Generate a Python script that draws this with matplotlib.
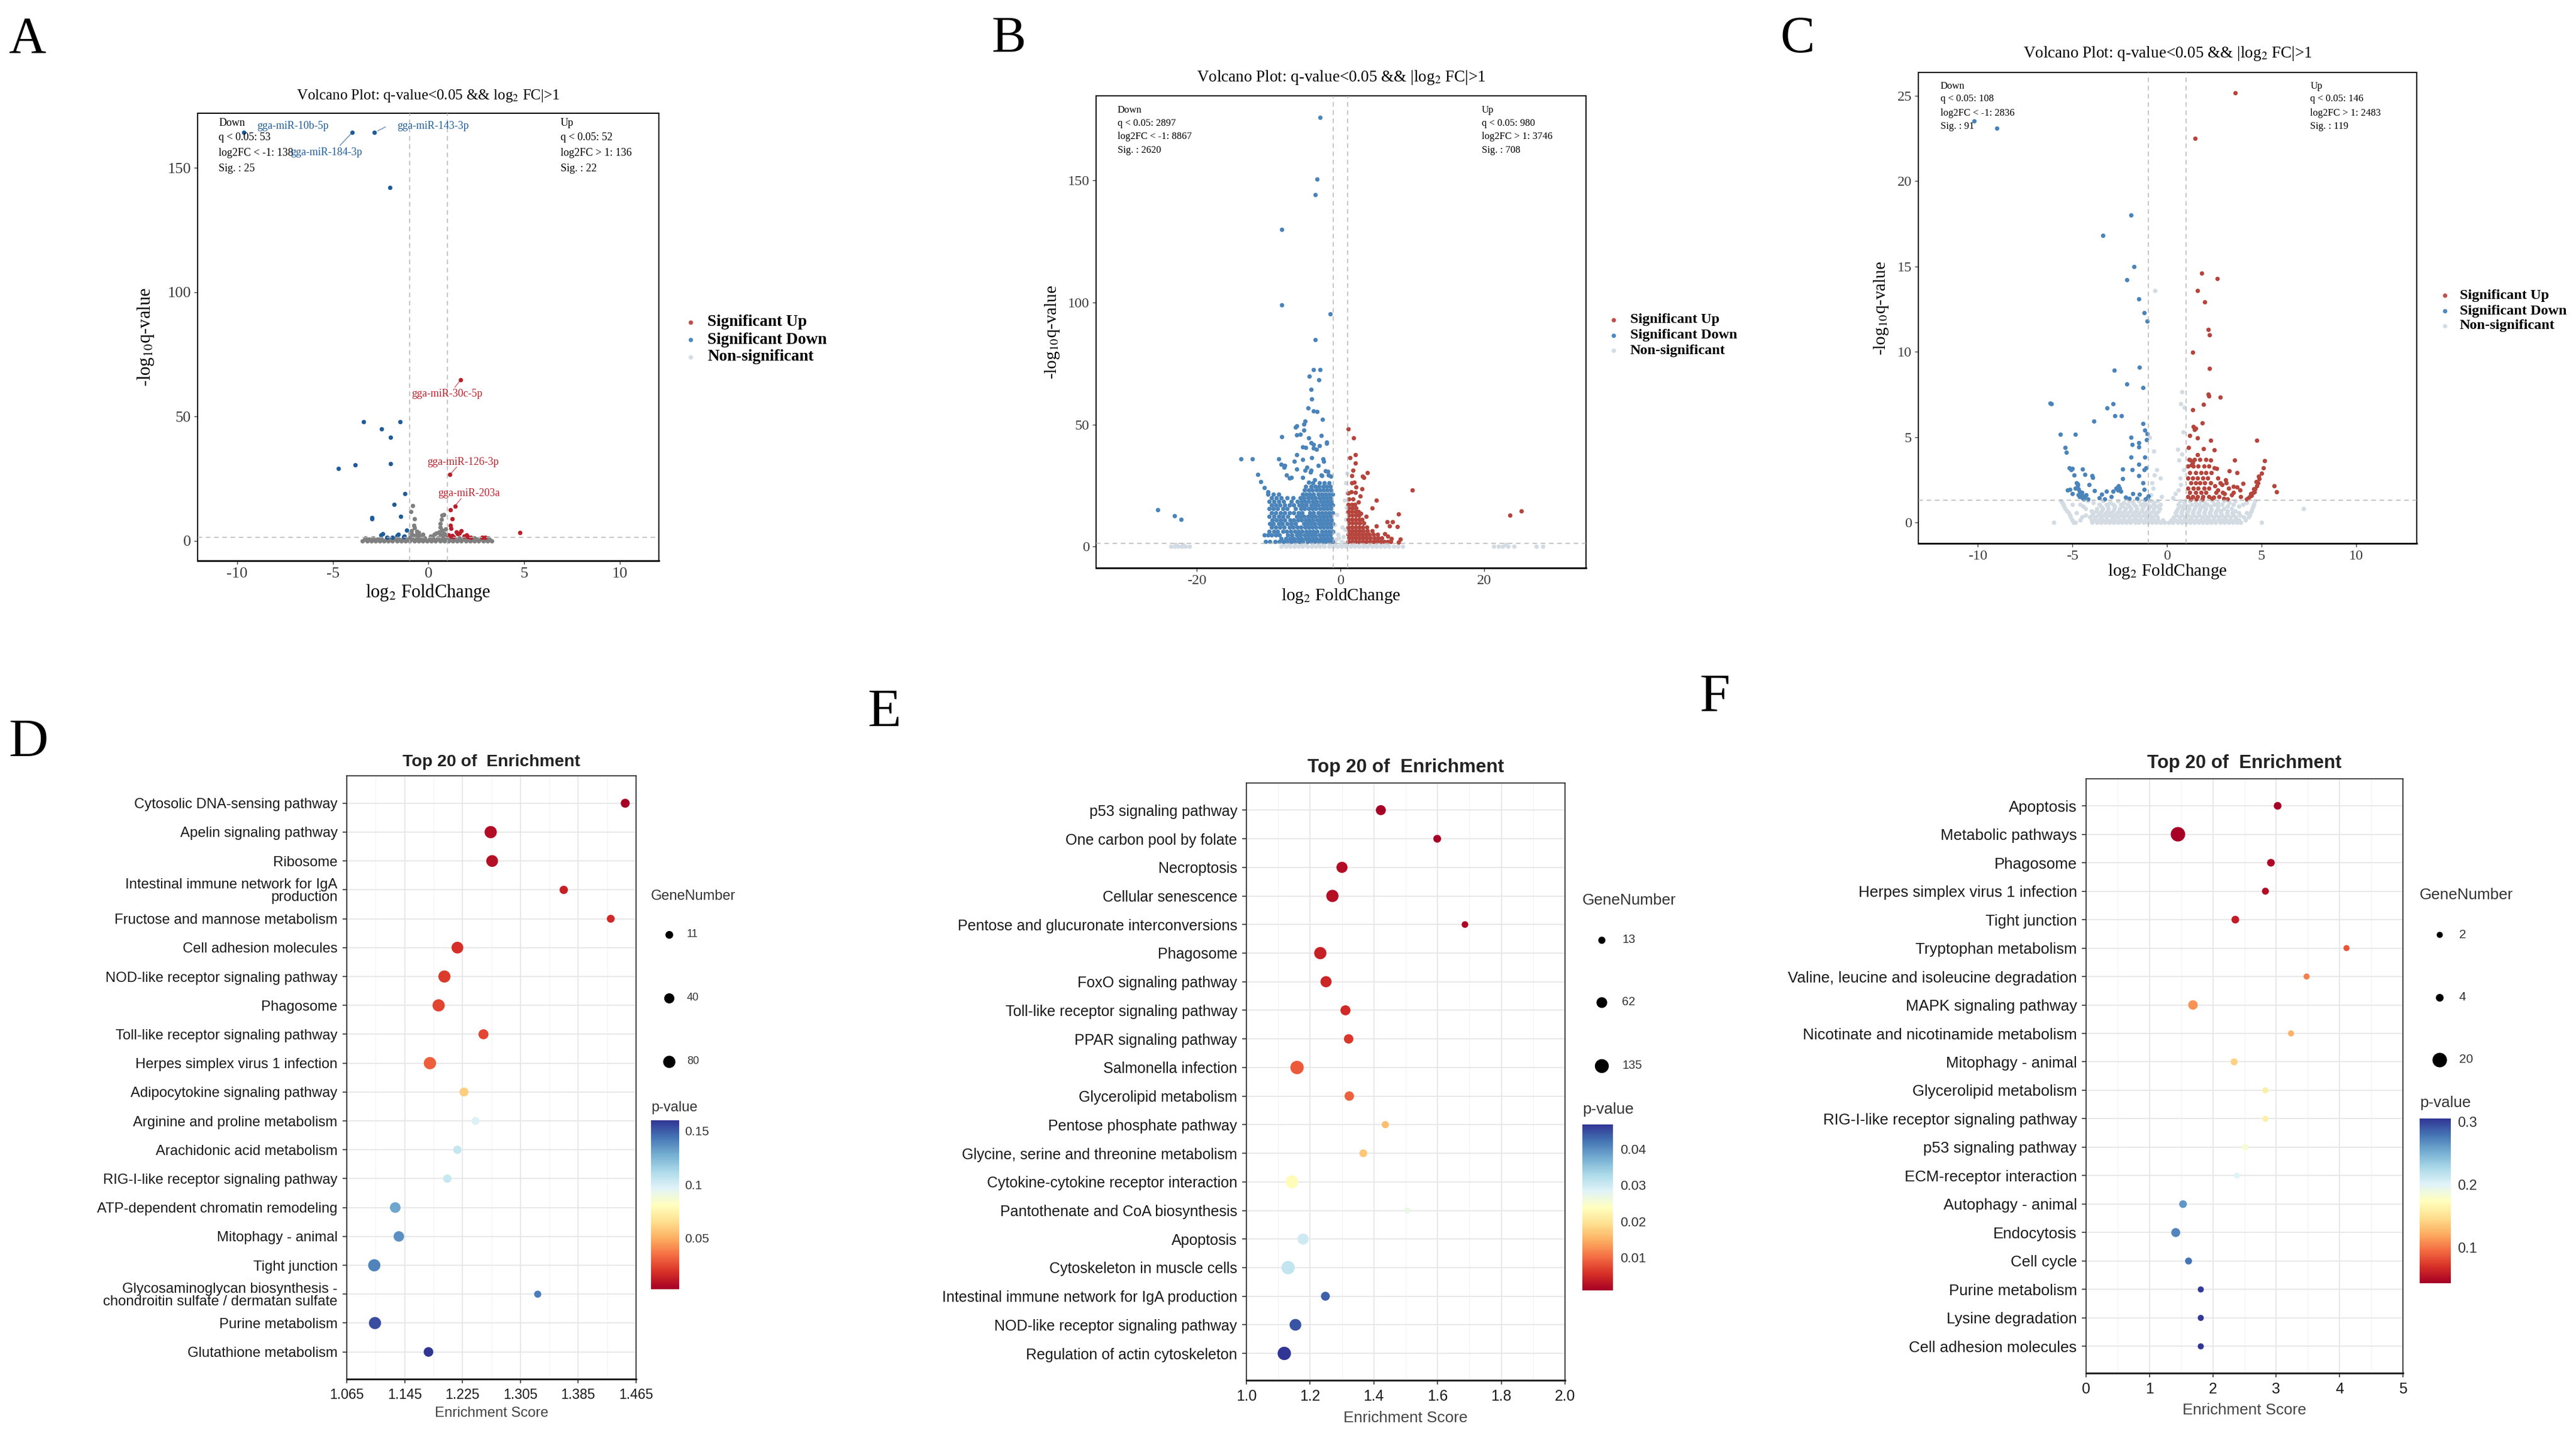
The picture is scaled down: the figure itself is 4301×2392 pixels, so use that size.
import numpy as np
import matplotlib
matplotlib.use("Agg")
import matplotlib.pyplot as plt
from matplotlib.colors import Normalize
from matplotlib.colorbar import ColorbarBase

W, H, DPI = 4301, 2392, 100
plt.rcParams["mathtext.fontset"] = "stix"
plt.rcParams["axes.unicode_minus"] = False
SERIF = ["Liberation Serif", "DejaVu Serif"]
SANS = ["Liberation Sans", "DejaVu Sans"]
plt.rcParams["font.family"] = SANS

# -------------------- VOLCANO DATA (log2FC, -log10 q) -------------------- #

# panel A
a_up_pts = [(1.67, 64.7), (1.10, 26.6), (1.38, 13.9), (4.76, 3.4), (1.13, 12.6), (1.24, 8.9),
            (1.13, 6.2), (1.18, 4.9), (1.70, 4.1), (1.53, 2.9), (1.99, 2.3), (1.05, 2.4),
            (1.24, 2.1), (2.05, 1.6), (1.45, 3.5), (1.60, 3.2), (2.80, 1.5), (2.95, 1.4),
            (1.85, 1.8), (1.30, 1.7), (2.20, 1.5), (1.15, 1.9)]
a_down_pts = [(-9.64, 164.3), (-3.98, 164.3), (-2.83, 164.3), (-2.02, 142.0), (-3.38, 48.0),
              (-1.47, 48.0), (-2.45, 45.0), (-1.99, 41.7), (-4.70, 29.2), (-3.84, 30.6),
              (-1.99, 31.0), (-1.24, 19.1), (-1.79, 14.6), (-2.97, 9.4), (-2.95, 8.9),
              (-1.44, 9.9), (-1.13, 4.2), (-2.50, 2.4), (-2.38, 2.9), (-2.16, 1.5),
              (-1.64, 2.1), (-1.58, 2.5), (-1.30, 1.6), (-1.28, 2.0), (-1.90, 1.4)]
a_ns_rows_y = [0.0, 0.6, 1.2, 2.6]
a_ns_rows_x = [
    [-3.45, -3.22, -3.0, -2.78, -2.55, -2.33, -2.1, -1.88, -1.65, -1.43, -1.2, -0.98, -0.75,
     -0.53, -0.3, -0.08, 0.15, 0.37, 0.6, 0.82, 1.05, 1.27, 1.5, 1.72, 1.95, 2.17, 2.4, 2.62,
     2.85, 3.07, 3.3],
    [-3.33, -3.11, -2.89, -2.66, -2.44, -2.22, -1.99, -1.77, -1.54, -1.32, -1.09, -0.87, -0.64,
     -0.42, -0.19, 0.04, 0.26, 0.49, 0.71, 0.94, 1.16, 1.39, 1.61, 1.84, 2.06, 2.29, 2.51, 2.74,
     2.96, 3.19],
    [-3.3, -2.9, -2.5, -2.1, -1.7, -1.3, -0.9, -0.6, -0.2, 0.2, 0.5, 0.8, 1.2, 1.6, 2.0, 2.4,
     2.8, 3.1],
    [-0.85, -0.6, -0.3, 0.3, 0.6, 0.85]]
a_ns_pts = [(-0.84, 14.1), (-0.92, 11.8), (-0.72, 8.9), (-0.78, 6.2), (-0.74, 5.2), (-0.88, 4.0),
            (-0.60, 3.8), (0.81, 10.5), (0.72, 10.2), (0.66, 8.6), (0.60, 7.0), (0.62, 5.5),
            (0.70, 4.3), (0.55, 3.6), (0.90, 4.8), (-0.50, 3.3), (0.40, 3.0), (-0.95, 2.0),
            (-0.7, 2.2), (-0.45, 1.9), (0.1, 2.0), (0.7, 2.3), (0.95, 2.0), (0.8, 3.2),
            (-0.95, 3.0)]
a_lab_text = ["gga-miR-10b-5p", "gga-miR-184-3p", "gga-miR-143-3p",
              "gga-miR-30c-5p", "gga-miR-126-3p", "gga-miR-203a"]
a_lab_x = [-8.97, -7.21, -1.62, 0.98, 1.79, 2.10]
a_lab_y = [166.9, 156.3, 166.9, 59.0, 31.6, 19.0]
a_lab_ha = ["left", "left", "left", "center", "center", "center"]
a_lab_dir = ["down", "down", "down", "up", "up", "up"]
a_seg_x = [(-4.62, -4.04), (-2.65, -2.25), (1.38, 1.64), (1.47, 1.15), (1.70, 1.44)]
a_seg_y = [(159.1, 163.8), (164.9, 166.5), (61.8, 64.4), (29.7, 26.9), (17.0, 14.6)]
a_seg_dir = ["down", "down", "up", "up", "up"]
a_info_down = ["Down", "q < 0.05: 53", "log2FC < -1: 138", "Sig. : 25"]
a_info_up = ["Up", "q < 0.05: 52", "log2FC > 1: 136", "Sig. : 22"]

# panel B
b_down_pts = [(-2.79, 175.9), (-3.26, 150.5), (-3.49, 144.2), (-8.14, 129.9), (-8.14, 99.0),
              (-1.40, 95.3), (-3.49, 84.8), (-3.72, 72.5), (-2.79, 72.5), (-4.34, 69.9),
              (-2.95, 68.2), (-4.11, 64.3), (-3.95, 60.5), (-4.50, 56.7), (-3.72, 55.5),
              (-3.26, 55.2), (-2.48, 52.2), (-4.88, 51.4), (-6.05, 49.4), (-5.04, 47.6),
              (-8.14, 44.9), (-6.05, 45.6), (-5.58, 45.9), (-4.42, 44.4), (-1.94, 42.8),
              (-4.03, 42.6), (-4.81, 40.6), (-2.87, 41.3), (-3.72, 41.8), (-3.33, 39.8),
              (-13.8, 36.0), (-12.25, 36.0), (-8.60, 36.0), (-7.75, 33.2), (-6.05, 37.7),
              (-2.33, 34.9), (-3.10, 33.2), (-11.47, 29.4), (-11.09, 26.6), (-10.54, 24.1),
              (-10.1, 22.5), (-6.82, 28.3), (-4.19, 30.4), (-4.65, 32.4), (-2.56, 29.1),
              (-1.7, 30.7), (-3.95, 36.5), (-5.27, 35.7), (-25.4, 15.0), (-23.1, 12.6),
              (-22.2, 11.2), (-7.46, 29.2), (-7.09, 28.0), (-5.23, 28.2), (-4.94, 31.3),
              (-4.09, 31.3), (-1.66, 29.2), (-1.29, 28.8), (-2.66, 29.2), (-3.57, 27.4),
              (-4.37, 26.4), (-8.23, 33.7), (-7.8, 32.5), (-6.43, 34.8), (-6.03, 31.7),
              (-2.37, 35.8), (-2.09, 30.9), (-5.2, 40.7), (-3.7, 40.2), (-1.86, 42.3),
              (-2.66, 45.4), (-6.2, 48.9), (-5.03, 50.1)]
b_down_rows_y = [1.9, 3.3, 4.6, 6.2, 7.8, 9.3, 10.9, 12.4, 13.9, 15.4, 16.9, 18.4, 19.9,
                 21.4, 23.0, 24.6, 26.1]
b_down_rows_x = [
    [-10.4, -9.8, -9.1, -8.5, -7.9, -7.4, -6.8, -6.3, -5.7, -5.2, -4.6, -4.1, -3.6, -3.0, -2.5, -2.0, -1.5, -1.1],
    [-8.2, -7.6, -7.0, -6.5, -5.9, -5.4, -4.8, -4.3, -3.8, -3.3, -2.7, -2.2, -1.7, -1.2],
    [-10.6, -10.1, -9.6, -9.0, -8.5, -7.3, -6.7, -6.1, -5.6, -5.0, -4.5, -4.0, -3.5, -2.9, -2.4, -1.9, -1.4],
    [-9.9, -9.2, -8.7, -8.0, -7.5, -6.9, -6.3, -5.8, -5.3, -4.7, -4.2, -3.7, -3.2, -2.6, -2.1, -1.6, -1.1],
    [-9.6, -9.0, -8.4, -7.8, -7.1, -6.6, -6.0, -5.5, -4.9, -4.4, -3.9, -3.4, -2.8, -2.3, -1.8, -1.3],
    [-9.8, -9.3, -8.6, -8.1, -7.4, -6.8, -6.2, -5.1, -4.6, -4.1, -3.6, -3.0, -2.5, -2.0, -1.5, -1.1],
    [-9.5, -8.9, -8.3, -7.7, -7.0, -6.5, -5.9, -5.4, -4.8, -4.3, -3.8, -3.2, -2.7, -2.2, -1.7, -1.2],
    [-9.9, -9.2, -8.6, -8.0, -7.3, -6.1, -5.6, -5.1, -4.5, -4.0, -3.5, -2.9, -2.4, -1.9, -1.4],
    [-9.6, -9.0, -8.3, -7.7, -7.1, -6.5, -5.8, -5.3, -4.2, -3.7, -3.1, -2.6, -2.1, -1.6, -1.1],
    [-9.9, -9.3, -8.7, -8.0, -7.4, -6.2, -5.5, -5.0, -4.4, -3.9, -3.4, -2.8, -2.3, -1.8, -1.3],
    [-9.6, -9.0, -8.4, -7.7, -7.1, -6.5, -5.7, -5.2, -4.7, -4.1, -3.6, -3.1, -2.5, -2.0, -1.5, -1.1],
    [-9.9, -9.2, -8.6, -7.9, -6.8, -6.0, -5.4, -4.9, -4.4, -3.8, -3.3, -2.7, -2.2, -1.7, -1.2],
    [-9.6, -8.9, -8.2, -7.4, -6.6, -5.6, -5.1, -4.5, -4.0, -3.5, -2.9, -2.4, -1.9, -1.4],
    [-10.1, -9.3, -8.6, -5.2, -4.7, -4.2, -3.7, -3.1, -2.6, -2.1, -1.6, -1.1],
    [-5.0, -4.4, -3.9, -3.3, -2.8, -2.3, -1.8, -1.3],
    [-4.8, -4.1, -3.5, -3.0, -2.4, -1.9, -1.4],
    [-3.8, -2.9, -2.2, -1.6]]
b_up_pts = [(1.11, 48.1), (1.86, 44.4), (2.06, 37.7), (1.34, 36.5), (2.06, 34.2), (1.77, 31.3),
            (3.77, 30.3), (1.57, 29.1), (3.06, 28.7), (3.23, 28.2), (1.63, 26.0), (1.91, 26.4),
            (2.2, 24.3), (3.0, 23.5), (10.06, 23.1), (1.06, 21.9), (1.49, 22.4), (2.14, 22.1),
            (2.77, 20.6), (5.06, 19.0), (2.54, 18.2), (4.43, 15.7), (8.14, 13.4), (2.83, 13.6),
            (3.63, 12.4), (6.49, 10.2), (7.29, 10.0), (7.91, 8.2), (6.83, 8.3), (5.06, 8.3),
            (8.34, 3.0), (8.14, 1.8), (7.14, 3.3), (6.2, 5.1), (6.63, 4.3), (25.2, 14.5),
            (23.6, 12.9)]
b_up_rows_y = [1.9, 3.4, 4.9, 6.5, 8.0, 9.6, 11.1, 12.7, 14.2, 15.8, 17.3, 19.5]
b_up_rows_x = [
    [1.1, 1.6, 2.1, 2.6, 3.1, 3.6, 4.1, 4.6, 5.1, 5.6, 6.1, 6.6, 7.0],
    [1.2, 1.7, 2.2, 2.7, 3.2, 3.7, 4.2, 4.8, 5.3, 5.8],
    [1.1, 1.5, 2.0, 2.5, 3.0, 3.5, 4.0, 4.6, 5.2],
    [1.2, 1.7, 2.2, 2.7, 3.2, 3.8, 4.4],
    [1.1, 1.6, 2.1, 2.6, 3.1, 3.7],
    [1.2, 1.7, 2.2, 2.7, 3.3],
    [1.1, 1.6, 2.1, 2.6, 3.0],
    [1.2, 1.7, 2.2, 2.6],
    [1.1, 1.6, 2.1, 2.5],
    [1.2, 1.7, 2.2],
    [1.1, 1.6, 2.0],
    [1.2, 1.8]]
b_ns_rows_y = [0.0, 0.8]
b_ns_rows_x = [
    [-23.6, -23.1, -22.6, -22.1, -21.6, -21.0, -8.2, -7.6, -7.0, -6.4, -5.8, -5.2, -4.6, -4.0,
     -3.4, -2.8, -2.2, -1.6, -1.0, -0.4, 0.2, 0.8, 1.4, 2.0, 2.6, 3.2, 3.8, 4.4, 5.0, 5.6, 6.2,
     6.8, 7.4, 8.0, 8.7, 21.4, 22.0, 22.6, 23.4, 24.2, 27.3, 28.2],
    [-22.9, -21.9, -7.9, -7.1, -6.3, -5.5, -4.7, -3.9, -3.1, -2.3, -1.5, -0.7, 0.1, 0.9, 1.7,
     2.5, 3.3, 4.1, 4.9, 5.7, 6.5, 23.0]]
b_ns_pts = [(-0.6, 3.0), (-0.3, 5.0), (0.4, 4.0), (0.7, 7.0), (-0.8, 9.0), (0.8, 11.0),
            (-0.5, 13.0), (0.85, 16.0), (0.6, 19.0), (0.9, 22.0), (0.75, 26.0), (0.9, 30.0),
            (-0.7, 2.5), (0.2, 2.0), (0.5, 1.6), (-0.2, 3.5), (0.3, 8.0), (0.95, 14.0), (-0.9, 6.0)]
b_info_down = ["Down", "q < 0.05: 2897", "log2FC < -1: 8867", "Sig. : 2620"]
b_info_up = ["Up", "q < 0.05: 980", "log2FC > 1: 3746", "Sig. : 708"]

# panel C
c_down_pts = [(-10.2, 23.5), (-9.0, 23.1), (-1.9, 18.0), (-3.39, 16.8), (-1.74, 15.0),
              (-2.13, 14.2), (-1.5, 13.1), (-1.22, 12.3), (-1.05, 11.8), (-1.45, 9.1),
              (-2.8, 8.9), (-2.13, 8.1), (-1.28, 7.9), (-6.18, 7.0), (-6.12, 6.95),
              (-2.87, 6.95), (-3.16, 6.7), (-2.76, 6.24), (-2.42, 6.24), (-3.87, 5.93),
              (-1.28, 5.79), (-1.17, 5.41), (-1.05, 5.2), (-1.08, 4.85), (-5.64, 5.15),
              (-4.84, 5.15), (-1.9, 5.0), (-1.5, 4.66), (-1.85, 4.56), (-1.5, 4.42),
              (-5.38, 4.4), (-5.32, 4.09), (-1.9, 3.83), (-1.17, 3.83), (-1.5, 3.4),
              (-5.18, 3.2), (-5.08, 3.1), (-5.0, 3.15), (-4.47, 3.12), (-2.36, 3.12),
              (-1.85, 3.1), (-1.22, 3.1), (-1.1, 3.2), (-4.9, 2.77), (-4.36, 2.8),
              (-3.98, 2.75), (-3.92, 2.62), (-2.36, 2.55), (-1.5, 2.72), (-1.28, 2.3),
              (-4.8, 2.3), (-4.74, 2.25), (-4.71, 2.18), (-4.13, 2.22), (-2.56, 2.15),
              (-2.5, 1.99), (-2.7, 2.0), (-2.6, 1.88), (-5.27, 1.9), (-5.13, 1.94),
              (-4.7, 1.95), (-4.62, 1.82), (-4.56, 1.7), (-3.84, 1.87), (-3.19, 1.82),
              (-2.87, 1.82), (-2.45, 1.82), (-1.2, 1.94), (-4.5, 1.75), (-4.55, 1.6),
              (-4.47, 1.45), (-4.27, 1.6), (-1.8, 1.68), (-1.45, 1.65), (-1.0, 1.53),
              (-2.2, 1.49), (-3.3, 1.37), (-1.03, 1.49), (-4.62, 1.5), (-4.4, 1.38),
              (-4.35, 1.55), (-4.7, 1.62), (-3.6, 1.45), (-2.0, 1.4), (-1.6, 1.42),
              (-4.2, 1.36), (-5.0, 1.7), (-4.85, 2.0), (-1.15, 1.38), (-3.45, 1.65),
              (-2.95, 1.5)]
c_up_pts = [(3.61, 25.15), (1.48, 22.5), (1.82, 14.6), (2.65, 14.3), (1.62, 13.6), (1.99, 12.9),
            (2.19, 11.3), (2.25, 11.0), (1.37, 9.95), (2.25, 9.03), (2.19, 7.5), (2.21, 7.42),
            (2.82, 7.35), (1.91, 6.9), (1.37, 6.6), (1.85, 5.84), (1.40, 5.6), (1.50, 5.5),
            (1.45, 5.45), (1.20, 5.1), (1.60, 4.94), (2.30, 4.82), (4.73, 4.8), (1.14, 4.37),
            (1.94, 4.3), (2.50, 4.23), (1.62, 3.95), (3.56, 3.64), (2.30, 3.64), (5.15, 3.6),
            (1.22, 3.64), (1.35, 3.5), (1.28, 3.36), (2.50, 3.2), (2.61, 3.15), (5.10, 3.2),
            (5.0, 2.86), (4.87, 2.55), (4.80, 2.3), (4.75, 2.15), (5.66, 2.15), (3.13, 2.3),
            (4.0, 2.27), (3.70, 2.08), (2.53, 2.13), (2.95, 1.75), (3.02, 1.68), (3.42, 1.63),
            (4.60, 1.96), (4.62, 1.8), (4.42, 1.68), (4.47, 1.58), (2.36, 1.4), (2.45, 1.48),
            (3.0, 1.4), (4.3, 1.45), (4.4, 1.55), (4.55, 1.75), (4.65, 1.95), (4.7, 2.4),
            (4.85, 2.7), (4.2, 1.35), (3.85, 1.9), (3.5, 2.1), (3.1, 2.5), (2.9, 2.2),
            (2.7, 1.9), (3.3, 3.0), (3.7, 2.9), (5.8, 1.8)]
c_up_rows_y = [3.7, 3.3, 2.9, 2.6, 2.3, 2.0, 1.75, 1.5, 1.35]
c_up_rows_x = [
    [1.15, 1.45, 1.75, 2.05],
    [1.1, 1.4, 1.65, 1.95, 2.2],
    [1.2, 1.5, 1.8, 2.05, 2.35],
    [1.1, 1.35, 1.6, 1.9, 2.15, 2.7],
    [1.25, 1.5, 1.75, 2.0, 2.3, 2.8],
    [1.1, 1.4, 1.65, 1.95, 2.2, 3.25],
    [1.2, 1.5, 1.8, 2.05, 2.6, 3.5],
    [1.1, 1.35, 1.6, 1.9, 2.2, 2.75, 3.9],
    [1.25, 1.55, 1.85, 3.2]]
c_ns_rows_y = [0.0, 0.15, 0.3, 0.42, 0.55, 0.68, 0.8, 0.93, 1.05, 1.15, 1.25]
c_ns_rows_x = [
    [-6.0, -4.95, -4.85, -3.95, -3.72, -3.5, -3.28, -3.05, -2.83, -2.6, -2.38, -2.15, -1.93,
     -1.7, -1.48, -1.25, -1.03, -0.8, -0.58, -0.35, -0.13, 0.1, 0.32, 0.55, 0.77, 1.0, 1.22,
     1.45, 1.67, 1.9, 2.12, 2.35, 2.57, 2.8, 3.02, 3.25, 3.47, 3.7, 3.9, 5.0],
    [-5.0, -4.6, -4.0, -3.84, -3.61, -3.39, -3.16, -2.94, -2.72, -2.49, -2.27, -2.04, -1.82,
     -1.59, -1.37, -1.14, -0.92, -0.69, -0.47, -0.24, 0.2, 0.44, 0.66, 0.88, 1.11, 1.33, 1.56,
     1.78, 2.01, 2.23, 2.46, 2.68, 2.91, 3.13, 3.36, 3.58, 3.8, 4.15],
    [-5.1, -4.5, -4.1, -3.8, -3.5, -3.2, -2.9, -2.6, -2.3, -2.0, -1.7, -1.4, -1.1, -0.8, -0.5,
     0.35, 0.65, 0.95, 1.25, 1.55, 1.85, 2.15, 2.45, 2.75, 3.05, 3.35, 3.65, 4.05, 4.3],
    [-5.15, -4.3, -3.95, -3.65, -3.35, -3.05, -2.75, -2.45, -2.15, -1.85, -1.55, -1.25, -0.95,
     -0.65, 0.5, 0.8, 1.1, 1.4, 1.7, 2.0, 2.3, 2.6, 2.9, 3.2, 3.5, 3.85, 4.35],
    [-5.2, -4.8, -3.9, -3.55, -3.25, -2.95, -2.65, -2.35, -2.05, -1.75, -1.45, -1.15, -0.85,
     -0.55, 0.45, 0.75, 1.05, 1.35, 1.65, 1.95, 2.25, 2.55, 2.85, 3.15, 3.45, 3.8, 4.2, 4.4],
    [-5.3, -4.0, -3.75, -3.45, -3.15, -2.85, -2.55, -2.25, -1.95, -1.65, -1.35, -1.05, -0.75,
     -0.45, 0.5, 0.8, 1.1, 1.4, 1.7, 2.0, 2.3, 2.6, 2.85, 3.2, 3.6, 4.45],
    [-5.4, -4.3, -3.7, -3.4, -3.1, -2.8, -2.5, -2.2, -1.9, -1.6, -1.3, -1.0, -0.7, -0.4, 0.55,
     0.85, 1.15, 1.45, 1.75, 2.05, 2.35, 2.7, 3.0, 3.4, 4.5, 7.2],
    [-5.45, -4.45, -3.5, -3.15, -2.75, -2.35, -2.0, -1.65, -1.25, -0.9, -0.55, 0.75, 1.1, 1.5,
     1.9, 2.3, 2.7, 3.2, 3.8, 4.55],
    [-5.5, -5.0, -4.6, -3.6, -3.2, -2.85, -2.45, -2.1, -1.75, -1.4, -1.05, -0.7, -0.35, 0.6,
     0.95, 1.3, 1.7, 2.1, 2.5, 2.9, 3.5, 4.0, 4.6],
    [-5.55, -3.9, -3.0, -2.3, -1.8, -1.2, -0.7, 0.9, 1.5, 2.0, 2.7, 3.3, 4.2],
    [-5.6, -4.2, -3.4, -2.6, -2.0, -1.5, -0.9, -0.5, 0.7, 1.2, 1.8, 2.4, 3.0, 3.6, 4.65]]
c_ns_pts = [(-0.63, 13.6), (0.8, 7.64), (0.71, 6.95), (0.9, 6.73), (0.85, 5.3), (-0.94, 5.0),
            (0.57, 4.28), (-0.71, 4.18), (0.63, 3.64), (-0.54, 3.07), (-0.68, 2.77),
            (-0.37, 2.58), (0.68, 2.6), (0.72, 2.2), (0.6, 1.9), (-0.85, 1.6), (0.45, 1.7),
            (-0.75, 2.0), (0.88, 3.1), (0.78, 4.0), (-0.8, 2.3), (-0.3, 1.5), (0.3, 1.45)]
c_info_down = ["Down", "q < 0.05: 108", "log2FC < -1: 2836", "Sig. : 91"]
c_info_up = ["Up", "q < 0.05: 146", "log2FC > 1: 2483", "Sig. : 119"]

volcano_legend = ["Significant Up", "Significant Down", "Non-significant"]

# -------------------- ENRICHMENT DATA -------------------- #

d_terms = ["Cytosolic DNA-sensing pathway", "Apelin signaling pathway", "Ribosome",
           "Intestinal immune network for IgA\nproduction", "Fructose and mannose metabolism",
           "Cell adhesion molecules", "NOD-like receptor signaling pathway", "Phagosome",
           "Toll-like receptor signaling pathway", "Herpes simplex virus 1 infection",
           "Adipocytokine signaling pathway", "Arginine and proline metabolism",
           "Arachidonic acid metabolism", "RIG-I-like receptor signaling pathway",
           "ATP-dependent chromatin remodeling", "Mitophagy - animal", "Tight junction",
           "Glycosaminoglycan biosynthesis -\nchondroitin sulfate / dermatan sulfate",
           "Purine metabolism", "Glutathione metabolism"]
d_score = [1.450, 1.264, 1.266, 1.365, 1.430, 1.218, 1.200, 1.192, 1.254, 1.180,
           1.227, 1.243, 1.218, 1.204, 1.132, 1.137, 1.103, 1.329, 1.104, 1.178]
d_genes = [23, 80, 70, 16, 12, 70, 78, 80, 38, 82, 22, 12, 16, 16, 48, 46, 80, 6, 78, 32]
d_pval = [0.002, 0.0067, 0.007, 0.013, 0.016, 0.018, 0.021, 0.023, 0.024, 0.030,
          0.060, 0.098, 0.105, 0.104, 0.130, 0.136, 0.140, 0.142, 0.154, 0.160]

e_terms = ["p53 signaling pathway", "One carbon pool by folate", "Necroptosis",
           "Cellular senescence", "Pentose and glucuronate interconversions", "Phagosome",
           "FoxO signaling pathway", "Toll-like receptor signaling pathway",
           "PPAR signaling pathway", "Salmonella infection", "Glycerolipid metabolism",
           "Pentose phosphate pathway", "Glycine, serine and threonine metabolism",
           "Cytokine-cytokine receptor interaction", "Pantothenate and CoA biosynthesis",
           "Apoptosis", "Cytoskeleton in muscle cells",
           "Intestinal immune network for IgA production",
           "NOD-like receptor signaling pathway", "Regulation of actin cytoskeleton"]
e_score = [1.422, 1.599, 1.300, 1.270, 1.686, 1.232, 1.250, 1.311, 1.321, 1.159,
           1.323, 1.436, 1.367, 1.143, 1.504, 1.178, 1.131, 1.248, 1.154, 1.119]
e_genes = [49, 19, 69, 93, 9, 93, 69, 49, 40, 120, 40, 13, 19, 106, 5, 69, 120, 32, 81, 120]
e_pval = [0.0009, 0.0012, 0.0022, 0.0025, 0.0015, 0.0041, 0.0045, 0.0050, 0.0060, 0.0087,
          0.0092, 0.0160, 0.0170, 0.0234, 0.0270, 0.0300, 0.0310, 0.0436, 0.0445, 0.0468]

f_terms = ["Apoptosis", "Metabolic pathways", "Phagosome", "Herpes simplex virus 1 infection",
           "Tight junction", "Tryptophan metabolism",
           "Valine, leucine and isoleucine degradation", "MAPK signaling pathway",
           "Nicotinate and nicotinamide metabolism", "Mitophagy - animal",
           "Glycerolipid metabolism", "RIG-I-like receptor signaling pathway",
           "p53 signaling pathway", "ECM-receptor interaction", "Autophagy - animal",
           "Endocytosis", "Cell cycle", "Purine metabolism", "Lysine degradation",
           "Cell adhesion molecules"]
f_score = [3.023, 1.450, 2.917, 2.830, 2.355, 4.110, 3.480, 1.687, 3.234, 2.337,
           2.830, 2.830, 2.513, 2.380, 1.530, 1.415, 1.617, 1.810, 1.810, 1.810]
f_genes = [4, 20, 4, 3, 4, 2, 2, 7, 2, 3, 2, 2, 2, 2, 4, 6, 3, 2, 2, 2]
f_pval = [0.044, 0.046, 0.050, 0.053, 0.060, 0.086, 0.104, 0.112, 0.125, 0.141,
          0.161, 0.162, 0.182, 0.200, 0.263, 0.271, 0.279, 0.302, 0.303, 0.305]

# -------------------- HELPERS -------------------- #

def box(l, t, r, b):
    return [l / W, 1 - b / H, (r - l) / W, (b - t) / H]

def unpack(pts, rows_y=None, rows_x=None):
    xs = [p[0] for p in pts]
    ys = [p[1] for p in pts]
    if rows_y is not None:
        for y, xr in zip(rows_y, rows_x):
            xs += xr
            ys += [y] * len(xr)
    return xs, ys

PT_S = 28
DASH = "#b5b5b5"
LEG_COL = ["#C0504D", "#5189C1", "#D5DCE4"]
CMAP = "RdYlBu"

fig = plt.figure(figsize=(W / DPI, H / DPI), dpi=DPI)
fig.patch.set_facecolor("white")
ov = fig.add_axes([0, 0, 1, 1])
ov.set_xlim(0, W)
ov.set_ylim(H, 0)
ov.set_axis_off()
ov.set_zorder(10)

# -------------------- VOLCANO PANELS -------------------- #

def volcano(cfg, ns, dn, up):
    l, t, r, b = cfg["rect"]
    ax = fig.add_axes(box(l, t, r, b))
    cols = cfg["colors"]
    ax.scatter(*ns, s=PT_S, c=cols[2], linewidths=0, zorder=2)
    ax.scatter(*dn, s=PT_S, c=cols[1], linewidths=0, zorder=2)
    ax.scatter(*up, s=PT_S, c=cols[0], linewidths=0, zorder=2)
    for v in (-1, 1):
        ax.axvline(v, color=DASH, lw=1.1, ls=(0, (5, 4)), zorder=3)
    ax.axhline(-np.log10(0.05), color=DASH, lw=1.1, ls=(0, (5, 4)), zorder=3)
    ax.set_xlim(cfg["xlim"])
    ax.set_ylim(cfg["ylim"])
    fs = cfg["fs"]
    ax.set_xticks(cfg["xticks"], [str(v) for v in cfg["xticks"]],
                  fontfamily=SERIF, fontsize=fs["tick"], color="#3a3a3a")
    ax.set_yticks(cfg["yticks"], [str(v) for v in cfg["yticks"]],
                  fontfamily=SERIF, fontsize=fs["tick"], color="#3a3a3a")
    ax.tick_params(length=4, width=1, color="#3a3a3a", pad=4)
    for sp in ax.spines.values():
        sp.set_linewidth(1.4)
        sp.set_color("black")
    ax.spines["bottom"].set_linewidth(2.0)
    ax.set_xlabel("log$_2$ FoldChange", fontfamily=SERIF, fontsize=fs["label"], va="center")
    ax.xaxis.set_label_coords(0.5, (b - cfg["xlab_y"]) / (b - t))
    ax.set_ylabel("-log$_{10}$q-value", fontfamily=SERIF, fontsize=fs["label"], va="center")
    ax.yaxis.set_label_coords((cfg["ylab_x"] - l) / (r - l), 0.5)
    for i, (sd, su) in enumerate(zip(cfg["info_down"], cfg["info_up"])):
        ax.text(cfg["info_x"][0], cfg["info_y"][i], sd, ha="left", va="center",
                fontfamily=SERIF, fontsize=fs["info"], zorder=5)
        ax.text(cfg["info_x"][1], cfg["info_y"][i], su, ha="left", va="center",
                fontfamily=SERIF, fontsize=fs["info"], zorder=5)
    ov.text((l + r) / 2, cfg["title_y"], cfg["title"], ha="center", va="center",
            fontfamily=SERIF, fontsize=fs["title"])
    mx, tx, ly = cfg["leg"]
    for c, lab, y in zip(LEG_COL, volcano_legend, ly):
        ov.scatter([mx], [y], s=PT_S, c=c, linewidths=0)
        ov.text(tx, y, lab, ha="left", va="center", fontfamily=SERIF,
                fontsize=fs["leg"], fontweight="bold")
    return ax

cfg_a = dict(rect=(330, 189, 1100, 936), xlim=(-12.06, 12.03), ylim=(-8, 172),
             xticks=[-10, -5, 0, 5, 10], yticks=[0, 50, 100, 150],
             colors=["#B8202A", "#1F5C99", "#808080"],
             fs=dict(title=18, tick=19, label=22, info=13, leg=19.5),
             title="Volcano Plot: q-value<0.05 && log$_2$ FC|>1", title_y=160,
             ylab_x=244, xlab_y=989, info_x=(-10.96, 6.9), info_y=[168, 162.2, 156, 149.8],
             info_down=a_info_down, info_up=a_info_up, leg=(1153, 1181, [538, 567, 596]))
cfg_b = dict(rect=(1830, 160, 2648, 948), xlim=(-34.0, 34.2), ylim=(-8.8, 184.7),
             xticks=[-20, 0, 20], yticks=[0, 50, 100, 150],
             colors=["#B5453D", "#4A84BA", "#D3DBE3"],
             fs=dict(title=19.5, tick=17.5, label=21, info=12, leg=17.5),
             title="Volcano Plot: q-value<0.05 && |log$_2$ FC|>1", title_y=130,
             ylab_x=1757, xlab_y=995, info_x=(-31.0, 19.7), info_y=[178.9, 173.5, 167.9, 162.3],
             info_down=b_info_down, info_up=b_info_up, leg=(2694, 2722, [534, 560, 585]))
cfg_c = dict(rect=(3203, 121, 4035, 907), xlim=(-13.15, 13.2), ylim=(-1.23, 26.36),
             xticks=[-10, -5, 0, 5, 10], yticks=[0, 5, 10, 15, 20, 25],
             colors=["#B5453D", "#4A84BA", "#D3DBE3"],
             fs=dict(title=19.5, tick=17.5, label=21, info=12, leg=17.5),
             title="Volcano Plot: q-value<0.05 && |log$_2$ FC|>1", title_y=89.5,
             ylab_x=3141, xlab_y=954, info_x=(-11.98, 7.57), info_y=[25.56, 24.8, 23.97, 23.19],
             info_down=c_info_down, info_up=c_info_up, leg=(4082, 4107, [493, 519, 544]))

ax_a = volcano(cfg_a, unpack(a_ns_pts, a_ns_rows_y, a_ns_rows_x), unpack(a_down_pts),
               unpack(a_up_pts))
lab_col = {"down": "#1F5C99", "up": "#B8202A"}
for sx, sy, dr in zip(a_seg_x, a_seg_y, a_seg_dir):
    ax_a.plot(sx, sy, color=lab_col[dr], lw=1.0, alpha=0.7, zorder=4)
for s, x, y, ha, dr in zip(a_lab_text, a_lab_x, a_lab_y, a_lab_ha, a_lab_dir):
    ax_a.text(x, y, s, ha=ha, va="center", color=lab_col[dr], fontfamily=SERIF,
              fontsize=13, zorder=5)

volcano(cfg_b, unpack(b_ns_pts, b_ns_rows_y, b_ns_rows_x),
        unpack(b_down_pts, b_down_rows_y, b_down_rows_x),
        unpack(b_up_pts, b_up_rows_y, b_up_rows_x))
volcano(cfg_c, unpack(c_ns_pts, c_ns_rows_y, c_ns_rows_x), unpack(c_down_pts),
        unpack(c_up_pts, c_up_rows_y, c_up_rows_x))

# -------------------- ENRICHMENT PANELS -------------------- #

def enrichment(cfg, terms, score, genes, pval):
    l, t, r, b = cfg["rect"]
    ax = fig.add_axes(box(l, t, r, b))
    n = len(terms)
    ypos = np.arange(n, 0, -1)
    norm = Normalize(min(pval), max(pval))
    a, k = cfg["size_ab"]

    def dot_s(g):
        return ((a + k * np.sqrt(np.asarray(g, float))) * 72 / DPI) ** 2

    fs = cfg["fs"]
    ax.scatter(score, ypos, s=dot_s(genes), c=pval, cmap=CMAP, norm=norm,
               linewidths=0, zorder=3)
    ax.set_xlim(cfg["xlim"])
    ax.set_ylim(0.06, n + 0.95)
    xt = cfg["xticks"]
    ax.set_xticks(xt, cfg["xticklabels"], fontsize=fs["xtick"], color="#1a1a1a")
    ax.set_xticks([(p + q) / 2 for p, q in zip(xt[:-1], xt[1:])], minor=True)
    ax.set_yticks(ypos, terms, fontsize=fs["ytick"], color="#1a1a1a")
    for lab in ax.get_yticklabels():
        lab.set_multialignment("right")
        lab.set_linespacing(0.95)
    ax.tick_params(which="major", length=5, width=1.2, color="#333333", pad=6)
    ax.tick_params(which="minor", length=0)
    ax.grid(True, which="major", color="#e6e6e6", lw=1.3)
    ax.xaxis.grid(True, which="minor", color="#f3f3f3", lw=0.8)
    ax.set_axisbelow(True)
    for sp in ax.spines.values():
        sp.set_linewidth(1.2)
        sp.set_color("#222222")
    ax.spines["bottom"].set_linewidth(2.2)
    ax.set_xlabel("Enrichment Score", fontsize=fs["xlabel"], color="#444444", va="center")
    ax.xaxis.set_label_coords(0.5, (b - cfg["xlab_y"]) / (b - t))
    ov.text((l + r) / 2, cfg["title_y"], "Top 20 of  Enrichment", ha="center", va="center",
            fontsize=fs["title"], fontweight="bold", color="#222222")
    # size legend
    gx, gy = cfg["gn"]
    ov.text(gx, gy, "GeneNumber", ha="left", va="center", fontsize=fs["legt"], color="#333333")
    dx, dys, labx, brk = cfg["dots"]
    for br, dy in zip(brk, dys):
        ov.scatter([dx], [dy], s=dot_s([br]), c="black", linewidths=0)
        ov.text(labx, dy, str(br), ha="left", va="center", fontsize=fs["legl"], color="#333333")
    # colour legend
    ov.text(gx, cfg["pv_y"], "p-value", ha="left", va="center", fontsize=fs["legt"],
            color="#333333")
    cax = fig.add_axes(box(*cfg["cbar"]))
    cb = ColorbarBase(cax, cmap=CMAP, norm=norm, orientation="vertical")
    cb.set_ticks(cfg["cb_ticks"], labels=cfg["cb_labels"], fontsize=fs["cbl"], color="#333333")
    cb.outline.set_visible(False)
    cax.tick_params(length=0, pad=cfg["cb_pad"])
    return ax

cfg_d = dict(rect=(579, 1295, 1062, 2302), xlim=(1.065, 1.465),
             xticks=[1.065, 1.145, 1.225, 1.305, 1.385, 1.465],
             xticklabels=["1.065", "1.145", "1.225", "1.305", "1.385", "1.465"],
             size_ab=(8.64, 1.315),
             fs=dict(ytick=17.2, xtick=16.6, xlabel=17.2, title=20.5, legt=17, legl=13, cbl=15),
             title_y=1272, xlab_y=2359, gn=(1087, 1496),
             dots=(1117, [1560, 1666, 1772], 1147, [11, 40, 80]),
             pv_y=1849, cbar=(1087, 1870, 1134, 2152), cb_ticks=[0.05, 0.1, 0.15],
             cb_labels=["0.05", "0.1", "0.15"], cb_pad=6.5)
cfg_e = dict(rect=(2081, 1307, 2613, 2304), xlim=(1.0, 2.0),
             xticks=[1.0, 1.2, 1.4, 1.6, 1.8, 2.0],
             xticklabels=["1.0", "1.2", "1.4", "1.6", "1.8", "2.0"],
             size_ab=(6.96, 1.398),
             fs=dict(ytick=18, xtick=17.8, xlabel=18.8, title=22.6, legt=18.8, legl=14.4, cbl=16),
             title_y=1281, xlab_y=2367, gn=(2642, 1503),
             dots=(2674, [1569, 1673, 1779], 2708, [13, 62, 135]),
             pv_y=1852, cbar=(2642, 1877, 2693, 2154), cb_ticks=[0.01, 0.02, 0.03, 0.04],
             cb_labels=["0.01", "0.02", "0.03", "0.04"], cb_pad=8.6)
cfg_f = dict(rect=(3483, 1300, 4012, 2292), xlim=(0, 5),
             xticks=[0, 1, 2, 3, 4, 5], xticklabels=["0", "1", "2", "3", "4", "5"],
             size_ab=(3.73, 4.578),
             fs=dict(ytick=18.6, xtick=18, xlabel=18.7, title=22.4, legt=18.7, legl=15, cbl=17),
             title_y=1274, xlab_y=2354, gn=(4040, 1494),
             dots=(4073, [1560, 1665, 1769], 4106, [2, 4, 20]),
             pv_y=1841, cbar=(4040, 1867, 4092, 2142), cb_ticks=[0.1, 0.2, 0.3],
             cb_labels=["0.1", "0.2", "0.3"], cb_pad=8)

enrichment(cfg_d, d_terms, d_score, d_genes, d_pval)
enrichment(cfg_e, e_terms, e_score, e_genes, e_pval)
enrichment(cfg_f, f_terms, f_score, f_genes, f_pval)

# -------------------- PANEL LETTERS -------------------- #

for letter, x, y, size in [("A", 14, 87, 62), ("B", 1656, 87, 62), ("C", 2972, 87, 62),
                           ("D", 14, 1263, 66), ("E", 1448, 1213, 66), ("F", 2837, 1188, 66)]:
    ov.text(x, y, letter, ha="left", va="baseline", fontfamily=SERIF, fontsize=size)

fig.savefig("out.png", dpi=DPI, facecolor="white")
